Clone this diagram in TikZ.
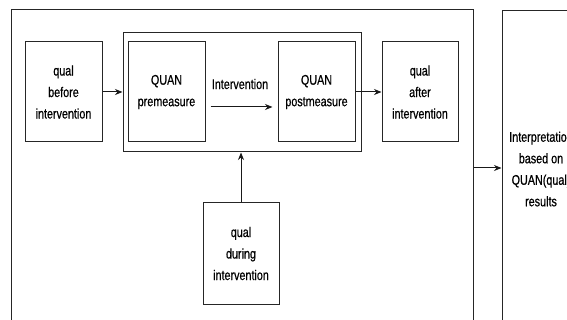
\documentclass[tikz,border=0pt]{standalone}
\usepackage{fontspec}
\setmainfont[FakeStretch=0.77,FakeBold=0.6]{Liberation Sans}
\usetikzlibrary{arrows.meta,calc}
\begin{document}
\begin{tikzpicture}[x=1pt,y=-1pt,
  every node/.style={font=\fontsize{14}{21.5}\selectfont, align=center, inner sep=0pt},
  frame/.style={draw=black!85, line width=1pt},
  textbox/.style={frame, minimum width=77pt, minimum height=100pt},
  conn/.style={draw=black!90, line width=1pt, -{Stealth[length=7.5pt,width=6pt]}}]
\useasboundingbox (0,0) rectangle (567,320);
\begin{scope}
\clip (0,0) rectangle (567,320);
\node[frame, minimum width=462pt, minimum height=316pt] (outer) at (242,168) {};
\node[frame, minimum width=78pt, minimum height=316pt] (interp) at (541,169) {Interpretation\\based on\\QUAN(qual)\\results};
\node[frame, minimum width=238pt, minimum height=119pt] (group) at (242,92.5) {};
\node[textbox] (before) at (63.5,92) {qual\\before\\intervention};
\node[textbox] (pre) at (166.5,92) {QUAN\\premeasure};
\node[textbox] (post) at (316.5,92) {QUAN\\postmeasure};
\node[textbox, minimum width=76pt] (after) at (420,92) {qual\\after\\intervention};
\node[textbox, minimum width=76pt, minimum height=101pt] (during) at (241,253.5) {qual\\during\\intervention};
\node (intlabel) at (240,84) {Intervention};
\draw[conn] (before.east) -- (before.east -| group.west);
\draw[conn] ($(pre.east)+(5,15)$) -- ($(post.west)+(-5,15)$);
\draw[conn] (post.east) -- (after.west);
\draw[conn] (during.north) -- (during.north |- group.south);
\draw[conn] (outer.east) -- (outer.east -| interp.west);
\end{scope}
\end{tikzpicture}
\end{document}
